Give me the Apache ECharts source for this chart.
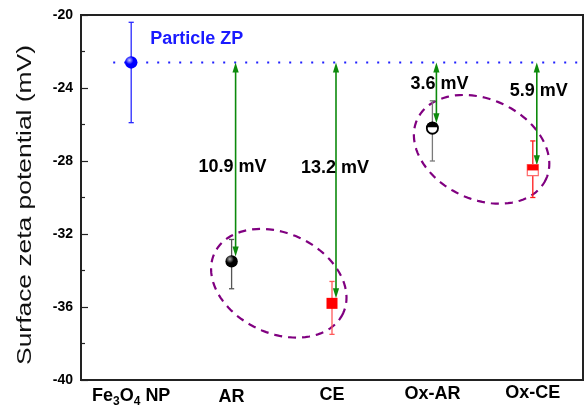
<!DOCTYPE html>
<html>
<head>
<meta charset="utf-8">
<script src="https://cdn.jsdelivr.net/npm/echarts@6/dist/echarts.min.js"></script>
<style>
  html, body { margin: 0; padding: 0; background: #fff; }
  #chart { width: 585px; height: 408px; }
</style>
</head>
<body>
<div id="chart"></div>
<script>
// Surface zeta potential of bare Fe3O4 nanoparticles and the coated samples
const categories = ['Fe3O4 NP', 'AR', 'CE', 'Ox-AR', 'Ox-CE'];
const zetaMean  = [-22.6, -33.5, -35.8, -26.2, -28.5];
const zetaUpper = [-20.4, -32.3, -34.6, -24.7, -26.9];
const zetaLower = [-25.9, -35.0, -37.5, -28.0, -30.0];
const particleZP = -22.6;
const zpShift = [null, 10.9, 13.2, 3.6, 5.9];   // mV drop relative to the bare particle
const yMin = -40, yMax = -20, yStep = 4;

const FONT = '"Liberation Sans", Arial, Helvetica, sans-serif';

// look of each sample: marker shape, fill, error-bar colour
const markerStyle = [
  { shape: 'sphere',     color: '#0000ff', light: '#c8c8ff', err: '#2a2aff' },
  { shape: 'sphere',     color: '#000000', light: '#b0b0b0', err: '#555555' },
  { shape: 'square',     color: '#ff0000', err: '#ff5a5a' },
  { shape: 'halfCircle', color: '#000000', err: '#7a7a7a' },
  { shape: 'halfSquare', color: '#ff0000', err: '#ff1a1a' }
];

// dashed rings grouping the sample pairs (anchor category + fraction of a band, value)
const rings = [
  { cat: 1, frac: 0.47, value: -34.7 },
  { cat: 3, frac: 0.49, value: -27.36 }
];

// text offsets of the shift labels relative to the arrow (px)
const shiftLabelOffset = [null, [-3, 105], [-1, 106], [3, 22], [2, 29]];

function renderErrorBar(params, api) {
  const i = api.value(0);
  const top = api.coord([i, api.value(2)]);
  const bot = api.coord([i, api.value(1)]);
  const c = markerStyle[i].err;
  const cap = 2.6;
  const st = { stroke: c, lineWidth: 1.3 };
  return {
    type: 'group',
    children: [
      { type: 'line', shape: { x1: top[0], y1: top[1], x2: bot[0], y2: bot[1] }, style: st },
      { type: 'line', shape: { x1: top[0] - cap, y1: top[1], x2: top[0] + cap, y2: top[1] }, style: st },
      { type: 'line', shape: { x1: bot[0] - cap, y1: bot[1], x2: bot[0] + cap, y2: bot[1] }, style: st }
    ]
  };
}

function renderMarker(params, api) {
  const i = api.value(0);
  const p = api.coord([i, api.value(1)]);
  const s = markerStyle[i];
  if (s.shape === 'sphere') {
    return {
      type: 'circle',
      shape: { cx: p[0], cy: p[1], r: 6.2 },
      style: {
        fill: new echarts.graphic.RadialGradient(0.36, 0.32, 0.72, [
          { offset: 0, color: s.light },
          { offset: 0.45, color: s.color },
          { offset: 1, color: s.color }
        ])
      }
    };
  }
  if (s.shape === 'square') {
    return { type: 'rect', shape: { x: p[0] - 5.5, y: p[1] - 5.5, width: 11, height: 11 }, style: { fill: s.color } };
  }
  if (s.shape === 'halfCircle') {
    return {
      type: 'group',
      children: [
        { type: 'circle', shape: { cx: p[0], cy: p[1], r: 5.6 }, style: { fill: '#fff', stroke: s.color, lineWidth: 1.8 } },
        { type: 'sector', shape: { cx: p[0], cy: p[1] - 0.8, r0: 0, r: 5.8, startAngle: Math.PI, endAngle: Math.PI * 2 }, style: { fill: s.color } }
      ]
    };
  }
  // half-filled square
  return {
    type: 'group',
    children: [
      { type: 'rect', shape: { x: p[0] - 5.5, y: p[1] - 5.5, width: 11, height: 11 }, style: { fill: '#fff', stroke: '#ff6a6a', lineWidth: 1.2 } },
      { type: 'rect', shape: { x: p[0] - 5.5, y: p[1] - 5.5, width: 11, height: 5.8 }, style: { fill: s.color } }
    ]
  };
}

function renderArrow(params, api) {
  const i = api.value(0);
  const from = api.coord([i, api.value(1)]);
  const to = api.coord([i, api.value(2)]);
  const x = from[0] + 4;
  const y1 = from[1];
  const y2 = to[1] - 5;
  const L = 10, w = 3.1;
  const green = '#0c8a0c';
  const off = shiftLabelOffset[i];
  return {
    type: 'group',
    children: [
      { type: 'line', shape: { x1: x, y1: y1 + L - 1, x2: x, y2: y2 - L + 1 }, style: { stroke: green, lineWidth: 1.6 } },
      { type: 'polygon', shape: { points: [[x, y1], [x - w, y1 + L], [x + w, y1 + L]] }, style: { fill: green } },
      { type: 'polygon', shape: { points: [[x, y2], [x - w, y2 - L], [x + w, y2 - L]] }, style: { fill: green } },
      {
        type: 'text',
        z2: 10,
        style: {
          text: zpShift[i].toFixed(1) + ' mV',
          x: x + off[0], y: y1 + off[1],
          align: 'center', verticalAlign: 'middle',
          fontSize: 18, fontWeight: 'bold', fontFamily: FONT, fill: '#000'
        }
      }
    ]
  };
}

function renderParticleLine(params, api) {
  const p = api.coord([api.value(0), api.value(1)]);
  const cs = params.coordSys;
  return {
    type: 'group',
    children: [
      {
        type: 'line',
        shape: { x1: p[0] - 18, y1: p[1], x2: cs.x + cs.width - 5, y2: p[1] },
        style: { stroke: '#1f1fff', lineWidth: 2, lineDash: [2, 9], lineCap: 'butt' }
      },
      {
        type: 'text',
        style: {
          text: 'Particle ZP', x: p[0] + 19, y: p[1] - 23,
          align: 'left', verticalAlign: 'middle',
          fontSize: 18, fontWeight: 'bold', fontFamily: FONT, fill: '#1a1aff'
        }
      }
    ]
  };
}

function renderRing(params, api) {
  const r = rings[params.dataIndex];
  const c0 = api.coord([r.cat, r.value]);
  const c1 = api.coord([r.cat + 1, r.value]);
  const cx = c0[0] + r.frac * (c1[0] - c0[0]);
  const cy = c0[1];
  const a = 71, b = 50, tilt = 25 * Math.PI / 180;
  const pts = [];
  for (let k = 0; k < 96; k++) {
    const t = (k / 96) * Math.PI * 2;
    pts.push([
      cx + a * Math.cos(tilt) * Math.cos(t) - b * Math.sin(tilt) * Math.sin(t),
      cy + a * Math.sin(tilt) * Math.cos(t) + b * Math.cos(tilt) * Math.sin(t)
    ]);
  }
  return {
    type: 'polygon',
    shape: { points: pts },
    style: { fill: 'none', stroke: '#800080', lineWidth: 2.2, lineDash: [8, 6] }
  };
}

const labelPad = [4, 7.5, 5, 3, 0.5];

const option = {
  animation: false,
  backgroundColor: '#fff',
  grid: {
    left: 81, right: 2, top: 15, bottom: 26,
    show: true, borderColor: '#222', borderWidth: 2, backgroundColor: 'transparent'
  },
  xAxis: {
    type: 'category',
    data: categories,
    boundaryGap: true,
    axisLine: { lineStyle: { color: '#222', width: 2 } },
    axisTick: { inside: true, alignWithLabel: true, length: 5, lineStyle: { color: '#222', width: 1.2 } },
    splitLine: { show: false },
    axisLabel: {
      interval: 0,
      margin: 3,
      formatter: function (v, i) {
        if (i === 0) return '{f|Fe}{fs|3}{f|O}{fs|4}{f| NP}';
        return '{p' + i + '|' + v + '}';
      },
      rich: {
        f:  { fontSize: 18, fontWeight: 'bold', fontFamily: FONT, color: '#000', lineHeight: 20, verticalAlign: 'top', padding: [labelPad[0], 0, 0, 0] },
        fs: { fontSize: 12, fontWeight: 'bold', fontFamily: FONT, color: '#000', lineHeight: 20, verticalAlign: 'top', padding: [labelPad[0] + 9, 0, 0, 0] },
        p1: { fontSize: 18, fontWeight: 'bold', fontFamily: FONT, color: '#000', lineHeight: 20, padding: [labelPad[1], 0, 0, 0] },
        p2: { fontSize: 18, fontWeight: 'bold', fontFamily: FONT, color: '#000', lineHeight: 20, padding: [labelPad[2], 0, 0, 0] },
        p3: { fontSize: 18, fontWeight: 'bold', fontFamily: FONT, color: '#000', lineHeight: 20, padding: [labelPad[3], 0, 0, 0] },
        p4: { fontSize: 18, fontWeight: 'bold', fontFamily: FONT, color: '#000', lineHeight: 20, padding: [labelPad[4], 0, 0, 0] }
      }
    }
  },
  yAxis: {
    type: 'value',
    min: yMin, max: yMax, interval: yStep,
    axisLine: { show: true, lineStyle: { color: '#222', width: 2 } },
    axisTick: { show: true, inside: true, length: 7, lineStyle: { color: '#222', width: 1.2 } },
    minorTick: { show: true, splitNumber: 2, length: 4, lineStyle: { color: '#222', width: 1.2 } },
    splitLine: { show: false },
    axisLabel: { margin: 8, fontSize: 14, fontWeight: 'bold', fontFamily: FONT, color: '#000' }
  },
  graphic: [{
    type: 'text',
    x: 25.5, y: 205,
    rotation: Math.PI / 2,
    scaleX: 1.32,
    style: {
      text: 'Surface zeta potential (mV)',
      align: 'center', verticalAlign: 'middle',
      fontSize: 20, fontFamily: FONT, fill: '#111'
    }
  }],
  series: [
    {
      type: 'custom', name: 'rings', z: 1,
      renderItem: renderRing,
      data: rings.map(r => [r.cat, r.value])
    },
    {
      type: 'custom', name: 'particle ZP', z: 2,
      renderItem: renderParticleLine,
      data: [[0, particleZP]]
    },
    {
      type: 'custom', name: 'error bars', z: 3,
      renderItem: renderErrorBar,
      data: categories.map((c, i) => [i, zetaLower[i], zetaUpper[i]])
    },
    {
      type: 'custom', name: 'shift', z: 4,
      renderItem: renderArrow,
      data: zpShift.map((d, i) => d == null ? null : [i, particleZP, particleZP - d]).filter(Boolean)
    },
    {
      type: 'custom', name: 'zeta', z: 5,
      renderItem: renderMarker,
      data: zetaMean.map((v, i) => [i, v])
    }
  ]
};

const chart = echarts.init(document.getElementById('chart'), null, { renderer: 'canvas' });
chart.setOption(option);
</script>
</body>
</html>
